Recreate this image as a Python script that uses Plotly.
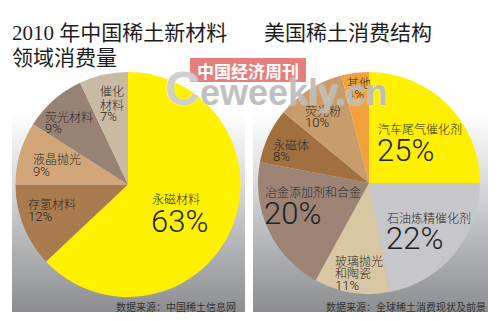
import base64
import plotly.graph_objects as go

# ---------------- data ----------------
left_labels = ["永磁材料", "存氢材料", "液晶抛光", "荧光材料", "催化材料"]
left_values = [63, 12, 9, 9, 7]

right_labels = ["汽车尾气催化剂", "石油炼精催化剂", "玻璃抛光和陶瓷", "冶金添加剂和合金",
                "永磁体", "荧光粉", "其他"]
right_values = [25, 22, 11, 20, 8, 10, 4]

left_title = ["2010 年中国稀土新材料", "领域消费量"]
right_title = "美国稀土消费结构"
left_source = "数据来源：中国稀土信息网"
right_source = "数据来源：全球稀土消费现状及前景"

# ---------------- styles ----------------
W, H = 498, 321
left_colors = ["#FFF200", "#A97B4F", "#D3A679", "#978374", "#C9BAA4"]
right_colors = ["#FFF000", "#C6C6CB", "#D9C6A2", "#9C8374", "#A2703F", "#C99C6B", "#F2A23C"]

CJK = "Noto Sans CJK SC"
SERIF = "Liberation Serif, Noto Sans CJK SC"
NUM = "Roboto, Liberation Sans, sans-serif"


def px(x):
    return x / W


def py(y):
    return 1 - y / H


# label layout: lines of the name, x (left), y of each line, y of percentage, big or not
left_pos = {
    "永磁材料": dict(lines=["永磁材料"], x=152, ys=[198], pct_y=221, big=True),
    "存氢材料": dict(lines=["存氢材料"], x=28, ys=[203], pct_y=216, big=False),
    "液晶抛光": dict(lines=["液晶抛光"], x=33, ys=[159], pct_y=172, big=False),
    "荧光材料": dict(lines=["荧光材料"], x=45, ys=[117], pct_y=128, big=False),
    "催化材料": dict(lines=["催化", "材料"], x=100, ys=[90, 104], pct_y=117, big=False),
}
right_pos = {
    "汽车尾气催化剂": dict(lines=["汽车尾气催化剂"], x=378, ys=[128], pct_y=151, big=True),
    "石油炼精催化剂": dict(lines=["石油炼精催化剂"], x=387, ys=[217], pct_y=238, big=True),
    "玻璃抛光和陶瓷": dict(lines=["玻璃抛光", "和陶瓷"], x=335, ys=[260, 272], pct_y=285, big=False),
    "冶金添加剂和合金": dict(lines=["冶金添加剂和合金"], x=265, ys=[192], pct_y=213, big=True),
    "永磁体": dict(lines=["永磁体"], x=273, ys=[145], pct_y=157, big=False),
    "荧光粉": dict(lines=["荧光粉"], x=305, ys=[110], pct_y=122, big=False),
    "其他": dict(lines=["其他"], x=347, ys=[82], pct_y=95, big=False),
}


def dom(cx, cy, r):
    return dict(x=[px(cx - r), px(cx + r)], y=[py(cy + r), py(cy - r)])


fig = go.Figure()
fig.add_trace(go.Pie(labels=left_labels, values=left_values, sort=False,
                     direction="clockwise", rotation=0,
                     marker=dict(colors=left_colors, line=dict(width=0)),
                     textinfo="none", hoverinfo="label+percent",
                     domain=dom(128, 184.5, 112.5), showlegend=False))
fig.add_trace(go.Pie(labels=right_labels, values=right_values, sort=False,
                     direction="clockwise", rotation=0,
                     marker=dict(colors=right_colors, line=dict(width=0)),
                     textinfo="none", hoverinfo="label+percent",
                     domain=dom(369, 183, 111), showlegend=False))

ann = []


def add_text(text, x, y, size, family=CJK, color="#2b2b2b", xanchor="left",
             yanchor="middle", weight=None, shadow=None):
    f = dict(family=family, size=size, color=color)
    if weight is not None:
        f["weight"] = weight
    if shadow is not None:
        f["shadow"] = shadow
    ann.append(dict(text=text, x=px(x), y=py(y), xref="paper", yref="paper",
                    xanchor=xanchor, yanchor=yanchor, showarrow=False, font=f))


for labels, values, pos in ((left_labels, left_values, left_pos),
                            (right_labels, right_values, right_pos)):
    for lab, val in zip(labels, values):
        p = pos[lab]
        for line, yy in zip(p["lines"], p["ys"]):
            add_text(line, p["x"] - 2, yy, 12, weight=300)
        add_text(f"{val}%", p["x"] - (3 if p["big"] else 2), p["pct_y"],
                 31 if p["big"] else 13, family=NUM, weight=300,
                 color="#222222")

# titles
add_text(left_title[0], 10, 33, 21, family=SERIF, color="#1e1e1e")
add_text(left_title[1], 10, 58, 21, family=SERIF, color="#1e1e1e")
add_text(right_title, 262, 33, 21, family=SERIF, color="#1e1e1e")

# sources
add_text(left_source, 238, 306, 10, color="#333333", xanchor="right")
add_text(right_source, 488, 306, 10, color="#333333", xanchor="right")

# watermark
add_text("中国经济周刊", 248, 72, 17, family=SERIF, color="#ffffff", xanchor="center",
         weight=700)
add_text("C", 163, 89, 48, family="Liberation Sans", color="rgba(200,200,200,0.85)",
         weight=700, shadow="0px 0px 2px #ffffff")
add_text("eweekly.cn", 198, 92, 36, family="Liberation Sans",
         color="rgba(175,175,175,0.8)", weight=700, shadow="0px 0px 2px #ffffff")


# gradient backgrounds
def grad_svg(w, h):
    svg = (f'<svg xmlns="http://www.w3.org/2000/svg" width="{w}" height="{h}">'
           '<defs><linearGradient id="g" x1="0" y1="0" x2="0" y2="1">'
           '<stop offset="0" stop-color="#ffffff"/>'
           '<stop offset="0.36" stop-color="#ffffff"/>'
           '<stop offset="0.6" stop-color="#d6d7da"/>'
           '<stop offset="1" stop-color="#8b8d91"/>'
           '</linearGradient></defs>'
           f'<rect width="{w}" height="{h}" fill="url(#g)"/></svg>')
    return "data:image/svg+xml;base64," + base64.b64encode(svg.encode()).decode()


images = []
for x0, x1 in ((12, 245), (253, 488)):
    images.append(dict(source=grad_svg(x1 - x0, 312), xref="paper", yref="paper",
                       x=px(x0), y=1, sizex=(x1 - x0) / W, sizey=312 / H,
                       xanchor="left", yanchor="top", sizing="stretch",
                       layer="below"))

shapes = [dict(type="rect", xref="paper", yref="paper", x0=px(190), x1=px(306),
               y0=py(82), y1=py(58), fillcolor="rgba(224,104,104,0.85)",
               line=dict(width=0), layer="above")]

fig.update_layout(width=W, height=H, margin=dict(l=0, r=0, t=0, b=0),
                  paper_bgcolor="#ffffff", plot_bgcolor="rgba(0,0,0,0)",
                  annotations=ann, images=images, shapes=shapes, showlegend=False)

fig.write_html("out.html")
